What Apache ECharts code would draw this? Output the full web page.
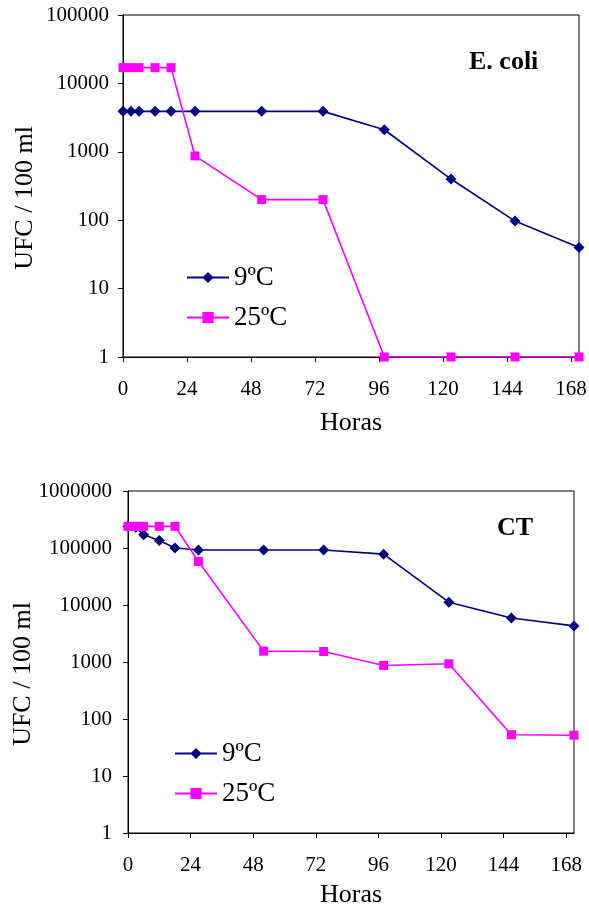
<!DOCTYPE html>
<html>
<head>
<meta charset="utf-8">
<script src="https://cdn.jsdelivr.net/npm/echarts@6/dist/echarts.min.js"></script>
<style>
html,body{margin:0;padding:0;background:#fff;}
#chart{width:589px;height:915px;}
</style>
</head>
<body>
<div id="chart"></div>
<script>
// ---- data ----
const hours = [0, 3, 6, 12, 18, 27, 52, 75, 98, 123, 147, 171];
const xTickLabels = [0, 24, 48, 72, 96, 120, 144, 168];
const seriesNames = ['9ºC', '25ºC'];
const titles = ['E. coli', 'CT'];
const ecoli9 = [3900, 3900, 3900, 3900, 3900, 3900, 3900, 3900, 2100, 400, 97, 40];
const ecoli25 = [17000, 17000, 17000, 17000, 17000, 870, 200, 200, 1, 1, 1, 1];
const ct9 = [240000, 230000, 170000, 135000, 100000, 92000, 92000, 92000, 78000, 11200, 5900, 4300];
const ct25 = [240000, 240000, 240000, 240000, 240000, 58000, 1550, 1530, 870, 930, 53, 52];

const FONT = 'Liberation Serif';
const NAVY = '#000080';
const MAGENTA = '#FF00FF';
const pairs = v => hours.map((h, i) => [h, v[i]]);

function xAxis(gridIndex, nameGap, margin) {
  return {
    type: 'value', gridIndex, min: 0, max: 171, interval: 24,
    name: 'Horas', nameLocation: 'middle', nameGap, nameMoveOverlap: false,
    nameTextStyle: { fontFamily: FONT, fontSize: 26, color: '#000' },
    axisLine: { lineStyle: { color: '#000', width: 1 } },
    axisTick: { show: true, length: 5, customValues: xTickLabels, lineStyle: { color: '#000' } },
    axisLabel: { customValues: xTickLabels, fontFamily: FONT, fontSize: 21, color: '#000', margin },
    splitLine: { show: false }
  };
}
function yAxis(gridIndex, max, nameGap, margin) {
  return {
    type: 'log', logBase: 10, gridIndex, min: 1, max,
    name: 'UFC / 100 ml', nameLocation: 'middle', nameGap, nameRotate: 90, nameMoveOverlap: false,
    nameTextStyle: { fontFamily: FONT, fontSize: 26, color: '#000', padding: [0, 24, 0, 0] },
    axisLine: { show: true, lineStyle: { color: '#000', width: 1 } },
    axisTick: { show: true, length: 5, lineStyle: { color: '#000' } },
    minorTick: { show: false },
    axisLabel: { fontFamily: FONT, fontSize: 21, color: '#000', margin, formatter: v => String(Math.round(v)) },
    splitLine: { show: false }
  };
}
function lineSeries(name, color, symbol, size, xi, data) {
  return {
    name, type: 'line', xAxisIndex: xi, yAxisIndex: xi,
    data: pairs(data), symbol, symbolSize: size, showSymbol: true,
    lineStyle: { color, width: 1.6 }, itemStyle: { color },
    animation: false
  };
}
function legend(left, top) {
  return {
    orient: 'vertical', left, top, data: seriesNames,
    itemWidth: 42, itemHeight: 14, itemGap: 13, padding: 0,
    textStyle: { fontFamily: FONT, fontSize: 27, color: '#000', lineHeight: 27, padding: [0, 0, 0, 0] },
    selectedMode: false
  };
}

const chart = echarts.init(document.getElementById('chart'), null, { renderer: 'canvas' });
chart.setOption({
  backgroundColor: '#fff',
  animation: false,
  title: [
    { text: titles[0], left: 469, top: 49, padding: 0, textStyle: { fontFamily: FONT, fontSize: 26, fontWeight: 'bold', color: '#000' } },
    { text: titles[1], left: 497, top: 515, padding: 0, textStyle: { fontFamily: FONT, fontSize: 26, fontWeight: 'bold', color: '#000' } }
  ],
  grid: [
    { left: 123, top: 15, width: 456, height: 342, show: true, borderColor: '#000', borderWidth: 1, backgroundColor: 'transparent', containLabel: false, outerBoundsMode: 'none' },
    { left: 128, top: 491, width: 446, height: 342, show: true, borderColor: '#000', borderWidth: 1, backgroundColor: 'transparent', containLabel: false, outerBoundsMode: 'none' }
  ],
  xAxis: [xAxis(0, 53, 22), xAxis(1, 49, 22)],
  yAxis: [yAxis(0, 100000, 85, 14), yAxis(1, 1000000, 92, 16)],
  legend: [legend(186, 264), legend(174, 740)],
  series: [
    lineSeries(seriesNames[0], NAVY, 'diamond', 11, 0, ecoli9),
    lineSeries(seriesNames[1], MAGENTA, 'rect', 9, 0, ecoli25),
    lineSeries(seriesNames[0], NAVY, 'diamond', 11, 1, ct9),
    lineSeries(seriesNames[1], MAGENTA, 'rect', 9, 1, ct25)
  ]
});
</script>
</body>
</html>
